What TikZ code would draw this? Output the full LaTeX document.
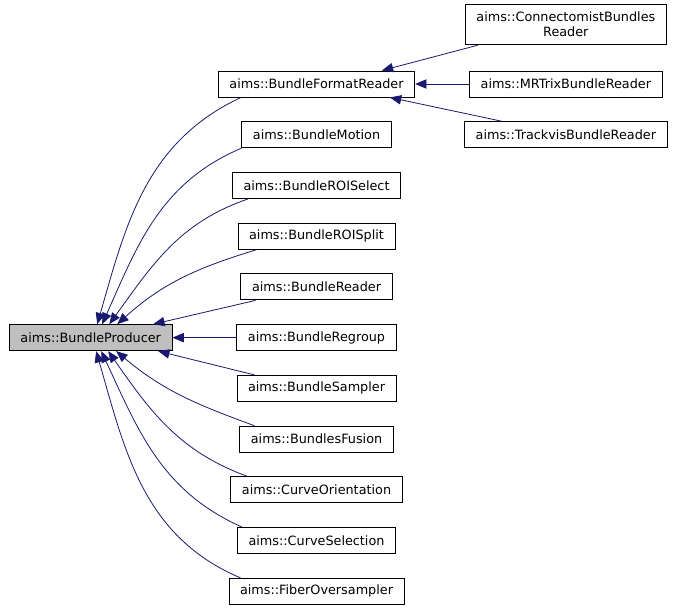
\documentclass[tikz,border=0pt]{standalone}
\usepackage{fontspec}
\setmainfont{DejaVu Sans}
\usepackage{tikz}
\usetikzlibrary{arrows.meta,positioning}
\definecolor{EdgeBlue}{RGB}{25,25,112}
\definecolor{BaseGrey}{RGB}{191,191,191}
\begin{document}
\begin{tikzpicture}[node distance=17.85pt,
  cls/.style={draw, line width=0.7pt, minimum height=19.5pt, inner xsep=8.3pt, inner ysep=0pt, align=center, font=\fontsize{9.6pt}{11.5pt}\selectfont},
  inh/.style={color=EdgeBlue, line width=0.6pt, {Triangle[length=8.5pt,width=7pt]}-}]
\useasboundingbox (0,0) rectangle (507pt,-457.5pt);
% derived classes, middle column
\node[cls] (fmt) at (237.4pt,-63pt) {aims::BundleFormatReader};
\node[cls, below=of fmt] (motion) {aims::BundleMotion};
\node[cls, below=of motion] (roisel) {aims::BundleROISelect};
\node[cls, below=of roisel] (roisplit) {aims::BundleROISplit};
\node[cls, below=of roisplit] (reader) {aims::BundleReader};
\node[cls, below=of reader] (regroup) {aims::BundleRegroup};
\node[cls, below=of regroup] (sampler) {aims::BundleSampler};
\node[cls, below=of sampler] (fusion) {aims::BundlesFusion};
\node[cls, below=of fusion] (orient) {aims::CurveOrientation};
\node[cls, below=of orient] (cursel) {aims::CurveSelection};
\node[cls, below=of cursel] (fiber) {aims::FiberOversampler};
% base class
\node[cls, fill=BaseGrey, left=48pt of regroup] (prod) {aims::BundleProducer};
% format readers
\node[cls, right=40.5pt of fmt] (mrtrix) {aims::MRTrixBundleReader};
\node[cls, minimum height=30.5pt, above=19pt of mrtrix] (cnx) {aims::ConnectomistBundles\\Reader};
\node[cls, below=of mrtrix] (trk) {aims::TrackvisBundleReader};
% inheritance
\draw[inh] ([xshift=4.9pt]prod.north) to[out=74, in=205] ([xshift=17.3pt]fmt.south west);
\draw[inh] ([xshift=8.6pt]prod.north) to[out=66, in=203] (motion.south west);
\draw[inh] ([xshift=13.9pt]prod.north) to[out=54, in=199] ([xshift=12pt]roisel.south west);
\draw[inh] ([xshift=19.9pt]prod.north) to[out=42, in=197] ([xshift=14.3pt]roisplit.south west);
\draw[inh] ([xshift=46.9pt]prod.north) -- ([xshift=11.3pt]reader.south west);
\draw[inh] (prod) -- (regroup);
\draw[inh] ([xshift=50.6pt]prod.south) -- ([xshift=13.5pt]sampler.north west);
\draw[inh] ([xshift=19.1pt]prod.south) to[out=-40, in=160] ([xshift=11.3pt]fusion.north west);
\draw[inh] ([xshift=13.1pt]prod.south) to[out=-55, in=160] ([xshift=12.8pt]orient.north west);
\draw[inh] ([xshift=7.9pt]prod.south) to[out=-65, in=156] ([xshift=3.8pt]cursel.north west);
\draw[inh] ([xshift=4.1pt]prod.south) to[out=-74, in=157] ([xshift=9pt]fiber.north west);
\draw[inh] ([xshift=49pt]fmt.north) -- ([xshift=-66pt]cnx.south);
\draw[inh] (fmt) -- (mrtrix);
\draw[inh] ([xshift=55pt]fmt.south) -- ([xshift=-48pt]trk.north);
\end{tikzpicture}
\end{document}
